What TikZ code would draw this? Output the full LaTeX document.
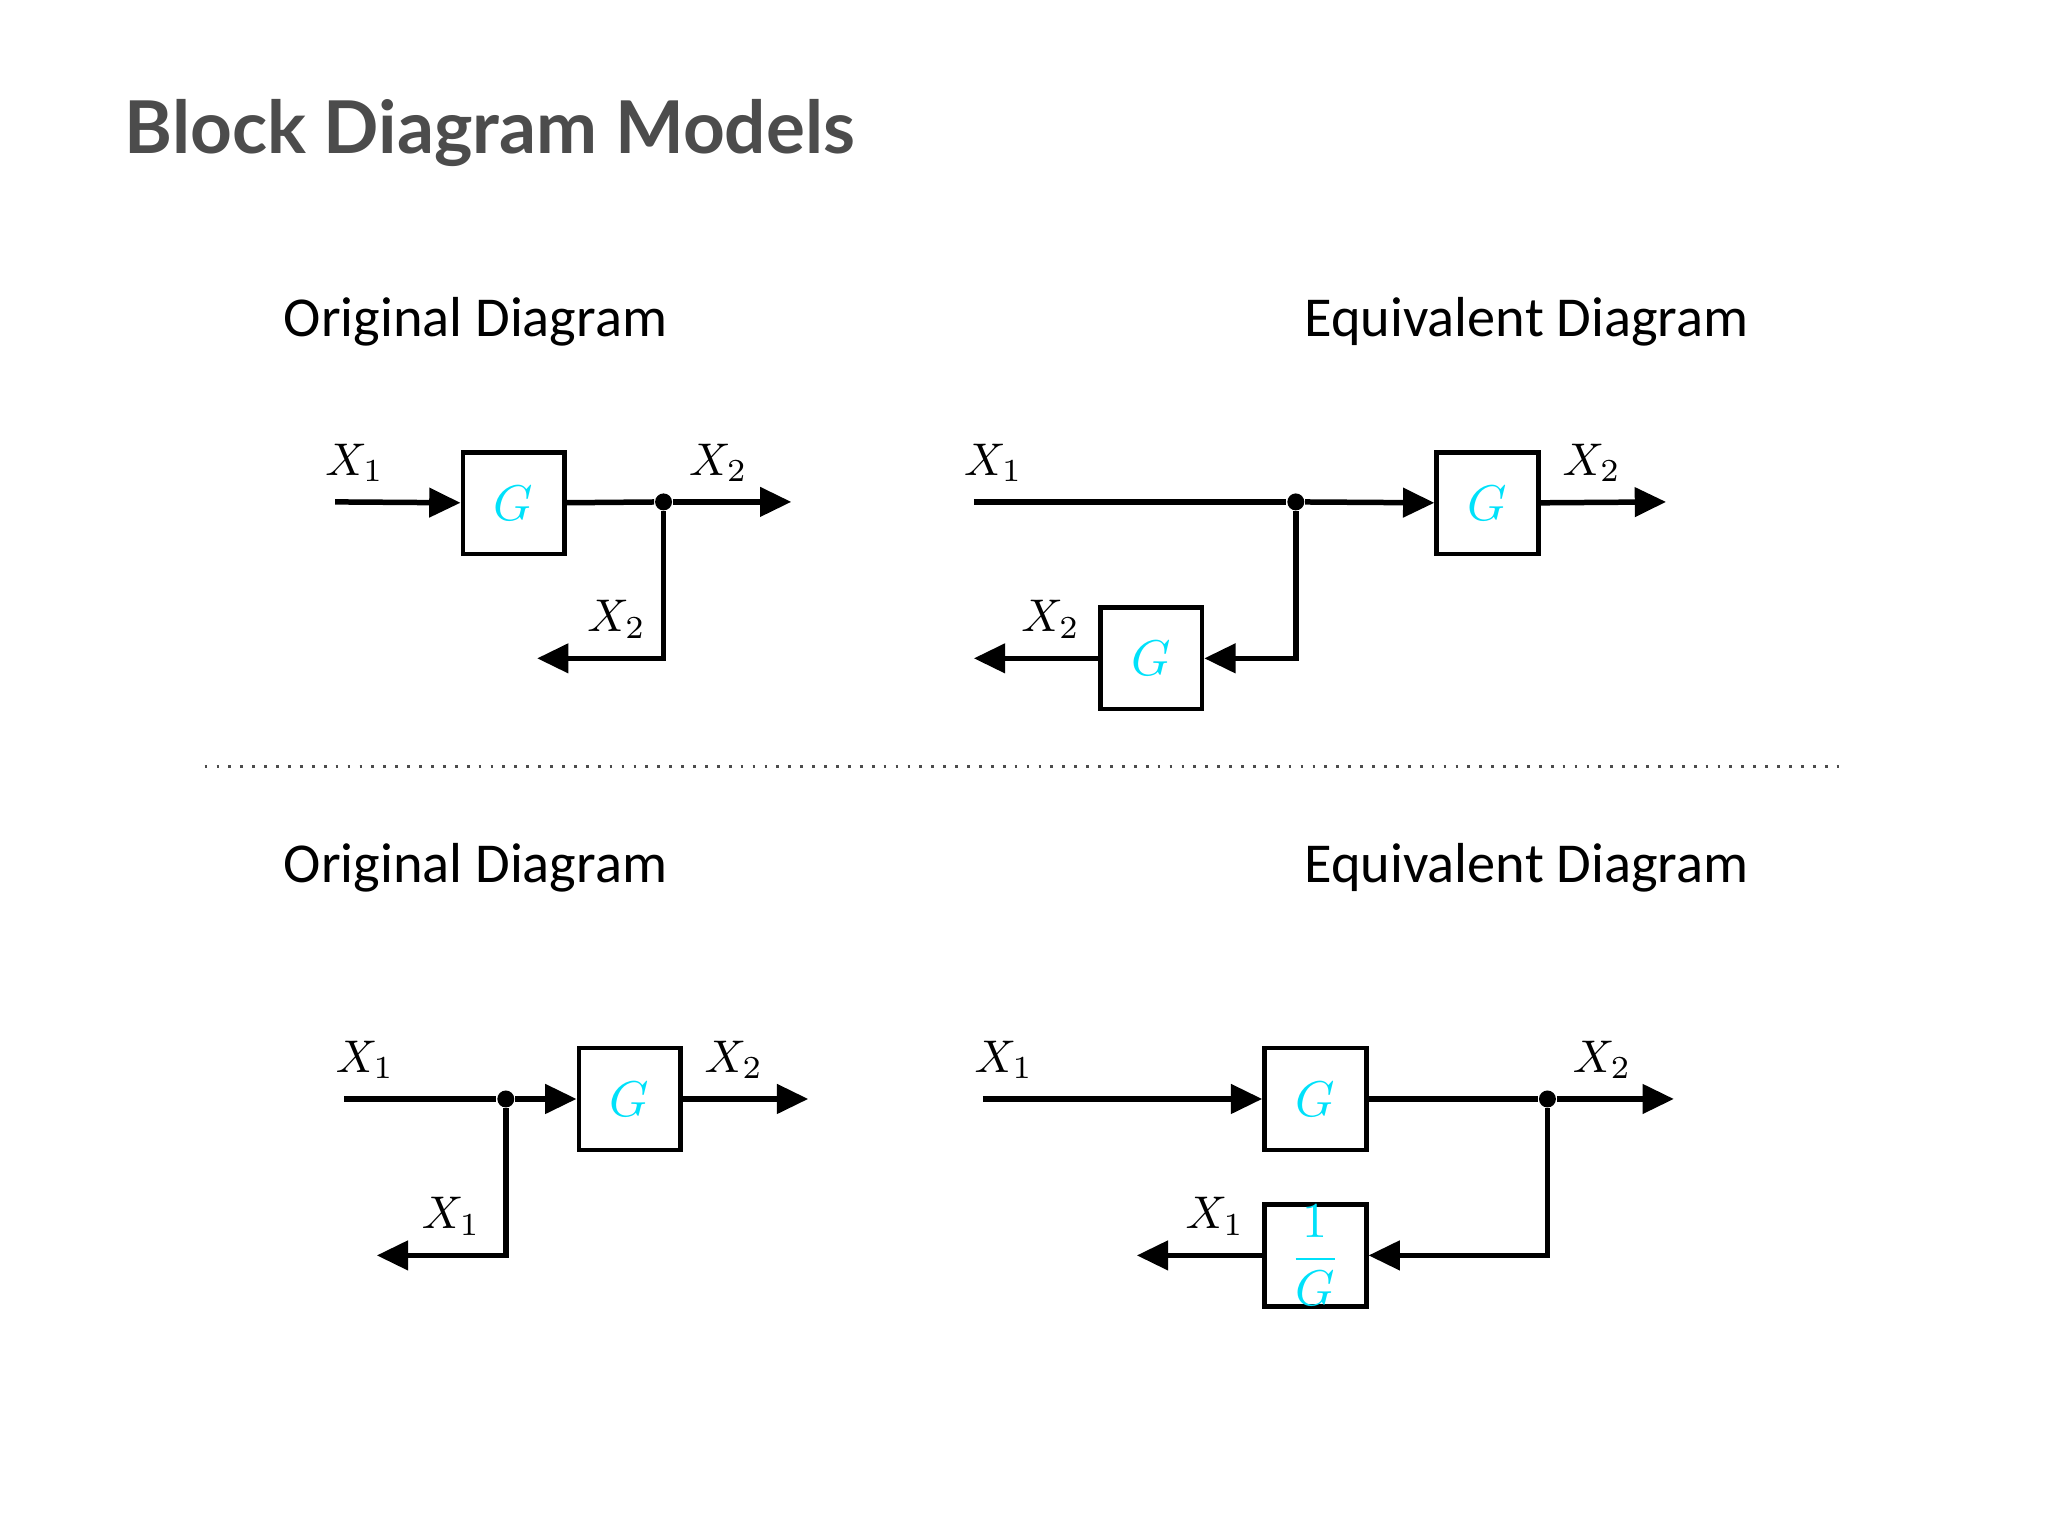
\documentclass[tikz,border=0pt]{standalone}
\usepackage{fontspec}
\setmainfont{Carlito}
\newfontfamily\titlefont{Lato}
\usetikzlibrary{arrows.meta}
\definecolor{gcyan}{RGB}{0,225,250}
\tikzset{block/.style={draw,line width=1pt,minimum size=0.78cm,inner sep=0pt,text=gcyan,font=\fontsize{10.5}{13}\selectfont},
  dot/.style={circle,fill,inner sep=0pt,minimum size=0.13cm},
  sig/.style={line width=1.2pt,-{Triangle[length=0.24cm,width=0.22cm]}},
  wire/.style={line width=1.2pt},
  lab/.style={font=\fontsize{10}{12}\selectfont},
  head/.style={font=\fontsize{12.3}{15}\selectfont}}

\begin{document}
\begin{tikzpicture}
      \useasboundingbox (0,0) rectangle (15.71,-11.78);
      \node[anchor=west,text=black!70,font=\titlefont\bfseries\fontsize{15.9}{18}\selectfont,inner sep=0pt] (title) at (0.95,-1.02) {Block Diagram Models};
      \node[head,anchor=west,inner sep=0pt] (o1) at (2.17,-2.47) {Original Diagram};
      \node[head,anchor=west,inner sep=0pt] (e1) at (10.0,-2.47) {Equivalent Diagram};
      \node[head,anchor=west,inner sep=0pt] (o2) at (2.17,-6.66) {Original Diagram};
      \node[head,anchor=west,inner sep=0pt] (e2) at (10.0,-6.66) {Equivalent Diagram};
      \coordinate (s0) at (1.57,-5.88);
      \coordinate (s1) at (14.12,-5.88);
      \draw[dotted,black!70,line width=0.6pt] (s0) -- (s1);
      % top left
      \node[block] (g1) at (3.94,-3.86) {$G$};
      \coordinate (a1) at (2.57,-3.85);
      \node[dot] (d1) at (5.09,-3.85) {};
      \coordinate (b1) at (6.07,-3.85);
      \coordinate (c1) at (5.09,-5.05);
      \coordinate (f1) at (4.12,-5.05);
      \draw[sig] (a1) -- (g1);
      \draw[wire] (g1) -- (d1);
      \draw[sig] (d1) -- (b1);
      \draw[sig] (d1) -- (c1) -- (f1);
      \node[lab] at (2.72,-3.55) {$X_1$};
      \node[lab] at (5.51,-3.55) {$X_2$};
      \node[lab] at (4.73,-4.75) {$X_2$};
      % top right
      \node[block] (g2) at (11.41,-3.86) {$G$};
      \node[block] (g3) at (8.83,-5.05) {$G$};
      \coordinate (a2) at (7.47,-3.85);
      \node[dot] (d2) at (9.94,-3.85) {};
      \coordinate (b2) at (12.78,-3.85);
      \coordinate (c2) at (9.94,-5.05);
      \coordinate (f2) at (7.47,-5.05);
      \draw[wire] (a2) -- (d2);
      \draw[sig] (d2) -- (g2);
      \draw[sig] (g2) -- (b2);
      \draw[sig] (d2) -- (c2) -- (g3);
      \draw[sig] (g3) -- (f2);
      \node[lab] at (7.62,-3.55) {$X_1$};
      \node[lab] at (12.21,-3.55) {$X_2$};
      \node[lab] at (8.06,-4.75) {$X_2$};
      % bottom left
      \node[block] (g4) at (4.83,-8.43) {$G$};
      \coordinate (a3) at (2.64,-8.43);
      \node[dot] (d3) at (3.88,-8.43) {};
      \coordinate (b3) at (6.20,-8.43);
      \coordinate (c3) at (3.88,-9.63);
      \coordinate (f3) at (2.89,-9.63);
      \draw[wire] (a3) -- (d3);
      \draw[sig] (d3) -- (g4);
      \draw[sig] (g4) -- (b3);
      \draw[sig] (d3) -- (c3) -- (f3);
      \node[lab] at (2.80,-8.13) {$X_1$};
      \node[lab] at (5.63,-8.13) {$X_2$};
      \node[lab] at (3.46,-9.33) {$X_1$};
      % bottom right
      \node[block] (g5) at (10.09,-8.43) {$G$};
      \node[block] (g6) at (10.09,-9.63) {$\displaystyle\frac{1}{G}$};
      \coordinate (a4) at (7.54,-8.43);
      \node[dot] (d4) at (11.87,-8.43) {};
      \coordinate (b4) at (12.84,-8.43);
      \coordinate (c4) at (11.87,-9.63);
      \coordinate (f4) at (8.72,-9.63);
      \draw[sig] (a4) -- (g5);
      \draw[wire] (g5) -- (d4);
      \draw[sig] (d4) -- (b4);
      \draw[sig] (d4) -- (c4) -- (g6);
      \draw[sig] (g6) -- (f4);
      \node[lab] at (7.70,-8.13) {$X_1$};
      \node[lab] at (12.29,-8.13) {$X_2$};
      \node[lab] at (9.32,-9.33) {$X_1$};
\end{tikzpicture}
\end{document}
